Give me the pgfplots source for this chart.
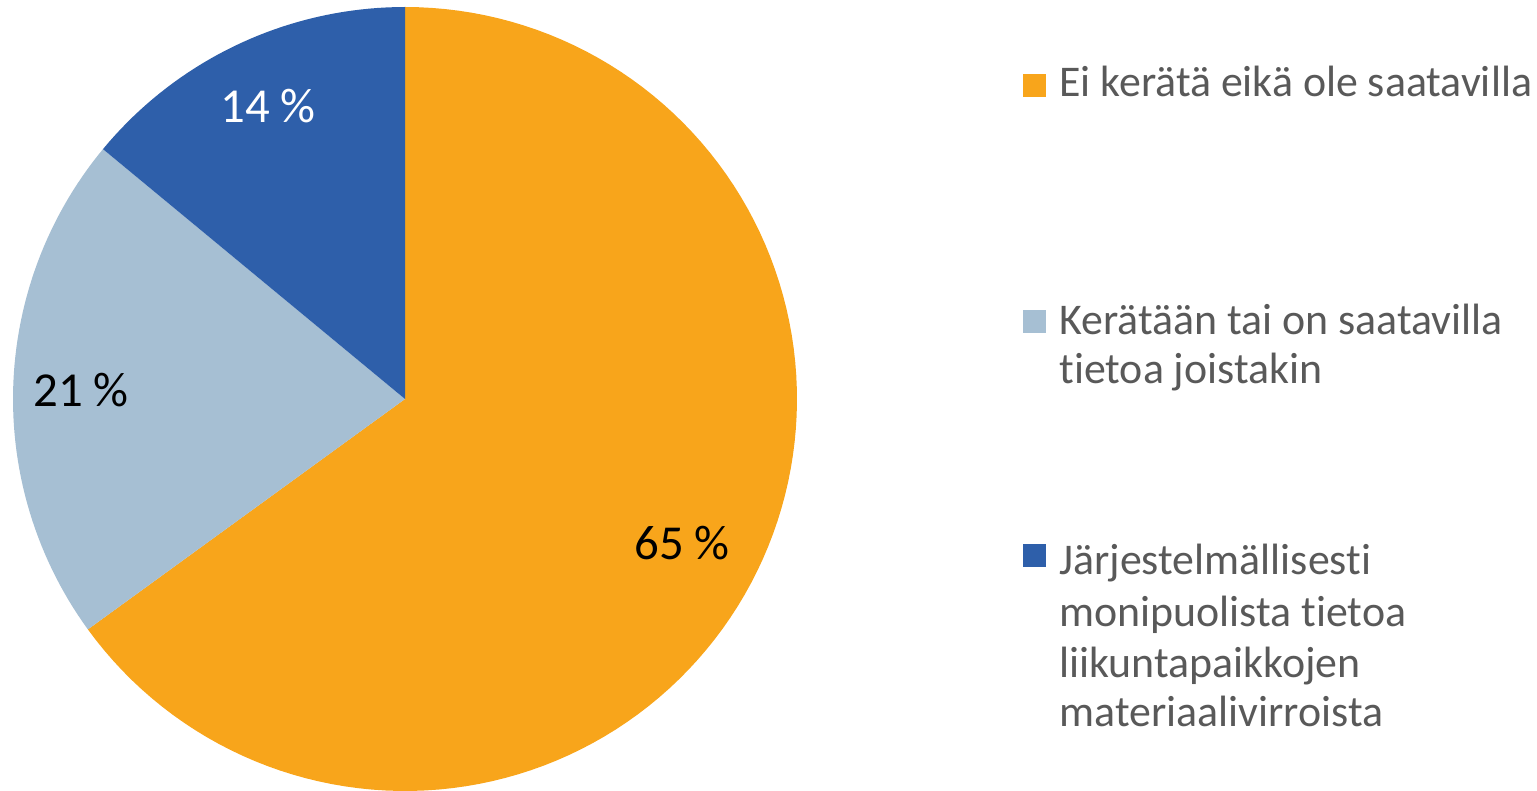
\documentclass[border=0pt]{standalone}
\usepackage{pgfplots}
\usepackage{pgfplotstable}
\pgfplotsset{compat=1.18}
\usepackage{fontspec}
\setmainfont{Carlito}[Ligatures=NoCommon]
\definecolor{cOrange}{HTML}{F8A51B}
\definecolor{cLight}{HTML}{A6BFD3}
\definecolor{cDark}{HTML}{2E5FAA}
\definecolor{cText}{HTML}{595959}

\pgfplotstableread{
label value
a 65
b 21
c 14
}\piedata
\pgfplotstablegetelem{0}{value}\of\piedata \let\va\pgfplotsretval
\pgfplotstablegetelem{1}{value}\of\piedata \let\vb\pgfplotsretval
\pgfplotstablegetelem{2}{value}\of\piedata \let\vc\pgfplotsretval
\pgfmathsetmacro{\aA}{90}
\pgfmathsetmacro{\aB}{90-3.6*\va}
\pgfmathsetmacro{\aC}{\aB-3.6*\vb}
\pgfmathsetmacro{\aD}{\aC-3.6*\vc}

\begin{document}
\begin{tikzpicture}
\begin{axis}[
  scale only axis,
  width=768.5bp, height=395.5bp,
  xmin=0, xmax=1537, ymin=0, ymax=791,
  hide axis, clip=false,
]
% frame the whole picture (invisible)
\path (0,0) rectangle (1537,791);
% slices (centre 405,392 ; radius 392, in pixel units)
\addplot[fill=cOrange, draw=none, domain=\aA:\aB, samples=120, variable=\t]
  ({405+392*cos(\t)},{392+392*sin(\t)}) -- (405,392) -- cycle;
\addplot[fill=cLight, draw=none, domain=\aB:\aC, samples=60, variable=\t]
  ({405+392*cos(\t)},{392+392*sin(\t)}) -- (405,392) -- cycle;
\addplot[fill=cDark, draw=none, domain=\aC:\aD, samples=40, variable=\t]
  ({405+392*cos(\t)},{392+392*sin(\t)}) -- (405,392) -- cycle;

% data labels
\node[anchor=base, font=\fontsize{24.5}{28}\selectfont, text=black] at (682,231) {\va{} \%};
\node[anchor=base, font=\fontsize{24.5}{28}\selectfont, text=black] at (81,384) {\vb{} \%};
\node[anchor=base, font=\fontsize{24.5}{28}\selectfont, text=white] at (268,668) {\vc{} \%};

% legend
\fill[cOrange] (1023,694) rectangle (1046,717);
\fill[cLight] (1023,458) rectangle (1046,481);
\fill[cDark] (1023,224) rectangle (1046,247);
\begin{scope}[every node/.style={anchor=base west, inner sep=0pt, text=cText, font=\fontsize{22}{26}\selectfont}]
\node at (1059,694) {Ei kerätä eikä ole saatavilla};
\node at (1059,456) {Kerätään tai on saatavilla};
\node at (1059,407) {tietoa joistakin};
\node at (1059,216) {Järjestelmällisesti};
\node at (1059,164) {monipuolista tietoa};
\node at (1059,113) {liikuntapaikkojen};
\node at (1059,64) {materiaalivirroista};
\end{scope}
\end{axis}
\end{tikzpicture}
\end{document}
